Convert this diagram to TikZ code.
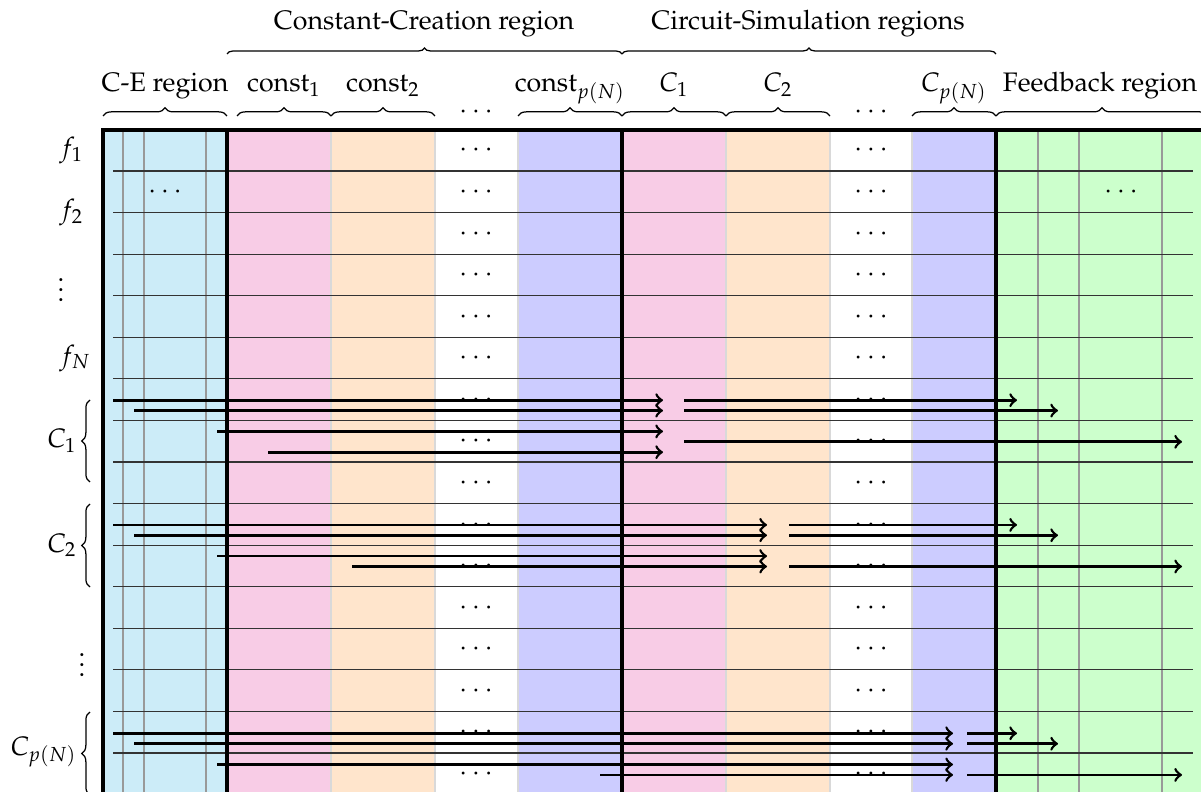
\documentclass[tikz,border=0pt]{standalone}
\usepackage[T1]{fontenc}
\usepackage{mathpazo}
\usetikzlibrary{decorations.pathreplacing}
\definecolor{ceblue}{RGB}{204,236,248}
\definecolor{cpink}{RGB}{248,204,230}
\definecolor{corange}{RGB}{255,229,204}
\definecolor{cviolet}{RGB}{204,204,255}
\definecolor{cgreen}{RGB}{204,255,204}
\tikzset{
  every node/.style={font=\fontsize{10.7}{12.8}\selectfont},
  colbox/.style={draw=black!15, line width=0.5pt},
  rowline/.style={draw=black!80, line width=0.5pt},
  gridv/.style={draw=black!40, line width=0.5pt},
  border/.style={line width=1.5pt},
  arr/.style={->, line width=1.05pt},
  hbrace/.style={decorate, decoration={brace, amplitude=3.3pt}, line width=0.5pt},
  tbrace/.style={decorate, decoration={brace, amplitude=2.4pt}, line width=0.5pt},
  lbl/.style={anchor=base, inner sep=0pt},
  dotsn/.style={anchor=base, inner sep=0pt},
  llbl/.style={anchor=west, inner sep=0pt},
  clbl/.style={anchor=east, inner sep=0pt},
}
\begin{document}
\begin{tikzpicture}[x=0.4pt, y=-0.4pt]
\useasboundingbox (0,0) rectangle (1201,792);
\clip (0,0) rectangle (1201,792);
% columns
\foreach \xa/\xb/\c in {103/227/ceblue, 227/331/cpink, 331/435/corange, 435/518/white, 518/622/cviolet, 622/726/cpink, 726/830/corange, 830/912/white, 912/996/cviolet, 996/1215/cgreen}
  \filldraw[colbox, fill=\c] (\xa,130) rectangle (\xb,810);
% gray sub-column lines
\foreach \x in {123,144,206,1038,1079,1162}
  \draw[gridv] (\x,130) -- (\x,810);
% row lines
\foreach \k in {0,...,14}
  \draw[rowline] (113,{171+41.57*\k}) -- (1193,{171+41.57*\k});
% thick borders
\draw[border] (103,810) -- (103,130) -- (1215,130);
\foreach \x in {227,622,996}
  \draw[border] (\x,130) -- (\x,810);
% arrows
\foreach \n/\xs/\xe/\yy in {
  a1/113/663/400.2, a2/134/663/410.6, a3/217/663/431.4, a4/268/663/452.2,
  b1/684/1017/400.2, b2/684/1058/410.6, b3/684/1182/441.8,
  c1/113/767/524.9, c2/134/767/535.3, c3/217/767/556.1, c4/352/767/566.5,
  d1/789/1017/524.9, d2/789/1058/535.3, d3/789/1182/566.5,
  e1/113/953/733.3, e2/134/953/743.7, e3/217/953/764.5, e4/600/953/774.9,
  g1/967/1017/733.3, g2/967/1058/743.7, g3/967/1182/774.9}{
  \coordinate (\n-s) at (\xs,\yy);
  \coordinate (\n-e) at (\xe,\yy);
  \draw[arr] (\n-s) -- (\n-e);
}
% dots in the grid
\foreach \r in {0,...,15}{
  \node[dotsn] (da\r) at (476,{157+41.57*\r}) {$\cdots$};
  \node[dotsn] (db\r) at (871,{157+41.57*\r}) {$\cdots$};
}
\node[dotsn] (dce) at (165,199) {$\cdots$};
\node[dotsn] (dfb) at (1121,199) {$\cdots$};
% column braces and labels
\draw[hbrace] (103,116) -- (227,116);
\draw[hbrace] (237,116) -- (331,116);
\draw[hbrace] (331,116) -- (435,116);
\draw[hbrace] (518,116) -- (622,116);
\draw[hbrace] (622,116) -- (726,116);
\draw[hbrace] (726,116) -- (830,116);
\draw[hbrace] (912,116) -- (996,116);
\draw[hbrace] (996,116) -- (1208,116);
\node[lbl] (lce) at (165,92) {C-E region};
\node[lbl] (lk1) at (284,92) {const$_1$};
\node[lbl] (lk2) at (383,92) {const$_2$};
\node[dotsn] (hd1) at (476,119) {$\cdots$};
\node[lbl] (lkp) at (570,92) {const$_{p(N)}$};
\node[lbl] (lc1) at (674,92) {$C_1$};
\node[lbl] (lc2) at (778,92) {$C_2$};
\node[dotsn] (hd2) at (871,119) {$\cdots$};
\node[lbl] (lcp) at (954,92) {$C_{p(N)}$};
\node[lbl] (lfb) at (1100,92) {Feedback region};
% top braces
\draw[tbrace] (227,54) -- (622,54);
\draw[tbrace] (622,54) -- (996,54);
\node[lbl] (lcc) at (424,30) {Constant-Creation region};
\node[lbl] (lcs) at (808,30) {Circuit-Simulation regions};
% left labels
\node[llbl] (f1) at (59,150) {$f_1$};
\node[llbl] (f2) at (59,212.5) {$f_2$};
\node[llbl] (fv) at (57,282.5) {$\vdots$};
\node[llbl] (fN) at (59,358) {$f_N$};
\draw[hbrace] (90,482) -- (90,400);
\draw[hbrace] (90,587) -- (90,504);
\draw[hbrace] (90,795) -- (90,712);
\node[clbl] (bc1) at (77,441) {$C_1$};
\node[clbl] (bc2) at (77,545) {$C_2$};
\node[llbl] (bv) at (78,657.5) {$\vdots$};
\node[clbl] (bcp) at (77,752) {$C_{p(N)}$};
\end{tikzpicture}
\end{document}
